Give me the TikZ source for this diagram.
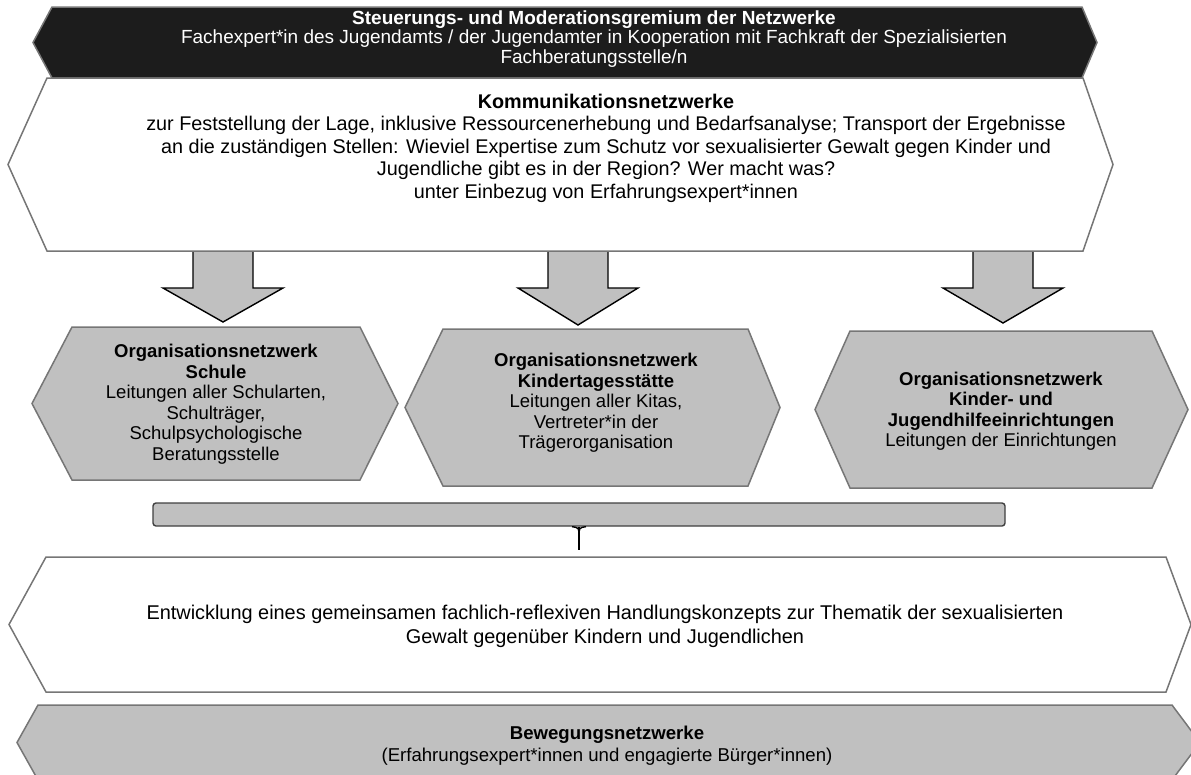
\documentclass[tikz,border=0pt]{standalone}
\usepackage{fontspec}
\setmainfont{Liberation Sans}
\usetikzlibrary{positioning}

\definecolor{boxgray}{RGB}{192,192,192}
\definecolor{edgegray}{RGB}{118,118,118}
\definecolor{darkbox}{RGB}{28,28,28}

\tikzset{
  darkhex/.style={fill=darkbox, draw=edgegray, line width=1.5pt},
  lighthex/.style={fill=white, draw=edgegray, line width=1.5pt},
  grayhex/.style={fill=boxgray, draw=edgegray, line width=1.5pt},
  blockarrow/.style={fill=boxgray, draw=black, line width=1.4pt, line join=miter},
  barbox/.style={fill=boxgray, draw=black!75, line width=1.4pt, rounded corners=3pt},
  label/.style={align=center, inner sep=0pt},
}

% hexagon: style, left tip x, left x, right x, right tip x, top y, bottom y
\newcommand{\hexbox}[7]{%
  \path[#1] (#3,#6) -- (#4,#6) -- (#5,{(#6+#7)/2}) -- (#4,#7) -- (#3,#7) -- (#2,{(#6+#7)/2}) -- cycle;}

\begin{document}
\begin{tikzpicture}[x=1pt, y=-1pt]
\clip (0,0) rectangle (1191,774);

% block arrows first, boxes on top
\foreach \x/\tip in {223/322, 578/325, 1003/323}
  \draw[blockarrow] (\x-30,251) -- (\x+30,251) -- (\x+30,288) -- (\x+60,288)
     -- (\x,\tip) -- (\x-60,288) -- (\x-30,288) -- cycle;

\hexbox{darkhex}{33}{52}{1082}{1097}{7}{78}
\hexbox{lighthex}{8}{47}{1083}{1113}{78}{251}
\hexbox{grayhex}{32}{72}{360}{398}{327}{480}
\hexbox{grayhex}{405}{443}{748}{780}{329}{486}
\hexbox{grayhex}{815}{850}{1152}{1188}{331}{488}
\hexbox{lighthex}{9}{46}{1166}{1191}{557}{692}
\hexbox{grayhex}{17}{38}{1172}{1200}{705}{780}

\node[label, text=white, font=\fontsize{19}{19.5}\selectfont] (steer) at (594,39)
  {\textbf{Steuerungs- und Moderationsgremium der Netzwerke}\\
   Fachexpert*in des Jugendamts / der Jugendamter in Kooperation mit Fachkraft der Spezialisierten\\
   Fachberatungsstelle/n};

\node[label, font=\fontsize{19.8}{22.5}\selectfont] (komm) at (606,148)
  {\textbf{Kommunikationsnetzwerke}\\
   zur Feststellung der Lage, inklusive Ressourcenerhebung und Bedarfsanalyse; Transport der Ergebnisse\\
   an die zuständigen Stellen: Wieviel Expertise zum Schutz vor sexualisierter Gewalt gegen Kinder und\\
   Jugendliche gibt es in der Region? Wer macht was?\\
   unter Einbezug von Erfahrungsexpert*innen};

\node[label, font=\fontsize{18.5}{20.5}\selectfont] (schule) at (216,404)
  {\textbf{Organisationsnetzwerk}\\ \textbf{Schule}\\ Leitungen aller Schularten,\\
   Schulträger,\\ Schulpsychologische\\ Beratungsstelle};
\node[label, font=\fontsize{18.5}{20.5}\selectfont] (kita) at (596,403)
  {\textbf{Organisationsnetzwerk}\\ \textbf{Kindertagesstätte}\\ Leitungen aller Kitas,\\
   Vertreter*in der\\ Trägerorganisation};
\node[label, font=\fontsize{18.5}{20.5}\selectfont] (jugend) at (1001,411)
  {\textbf{Organisationsnetzwerk}\\ \textbf{Kinder- und}\\ \textbf{Jugendhilfeeinrichtungen}\\
   Leitungen der Einrichtungen};

% brace bar collecting the three networks
\node[barbox, minimum width=852pt, minimum height=23pt] (bar) at (579,514.5) {};
\coordinate (devtop) at (579,550);
\draw[line width=2pt] (bar.south) -- (devtop);
\draw[line width=1.4pt] ([xshift=-7pt]bar.south) .. controls ([yshift=-1pt]bar.south) .. ([yshift=-10pt]bar.south);
\draw[line width=1.4pt] ([xshift=7pt]bar.south) .. controls ([yshift=-1pt]bar.south) .. ([yshift=-10pt]bar.south);

\node[label, font=\fontsize{19.9}{24}\selectfont] (entw) at (605,626)
  {Entwicklung eines gemeinsamen fachlich-reflexiven Handlungskonzepts zur Thematik der sexualisierten\\
   Gewalt gegenüber Kindern und Jugendlichen};

\node[label, font=\fontsize{18.6}{22}\selectfont] (beweg) at (607,746)
  {\textbf{Bewegungsnetzwerke}\\
   (Erfahrungsexpert*innen und engagierte Bürger*innen)};
\end{tikzpicture}
\end{document}
